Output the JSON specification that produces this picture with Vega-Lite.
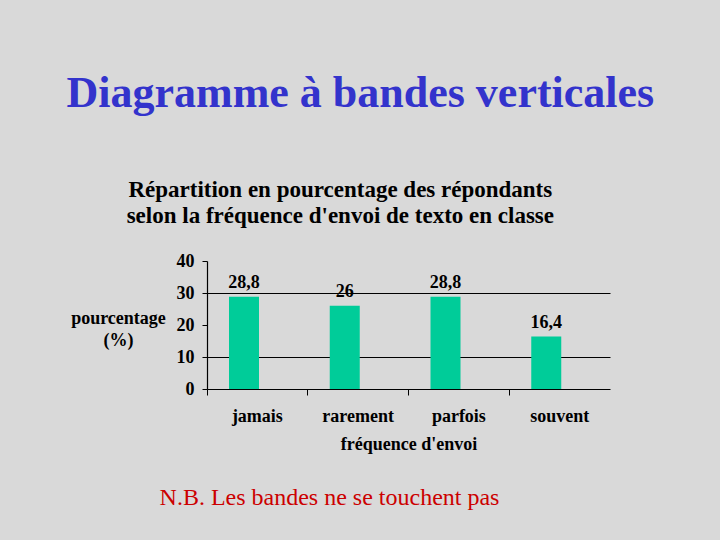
{
  "$schema": "https://vega.github.io/schema/vega-lite/v6.json",
  "background": "#d9d9d9",
  "padding": {"left": 66, "top": 72, "right": 67, "bottom": 30},
  "config": {
    "view": {"stroke": null},
    "locale": {"number": {"decimal": ",", "thousands": " ", "grouping": [3], "currency": ["", " €"]}},
    "concat": {"spacing": 0}
  },
  "title": {
    "text": "Diagramme à bandes verticales",
    "font": "Liberation Serif",
    "fontSize": 44,
    "fontWeight": "bold",
    "color": "#3333cc",
    "anchor": "middle",
    "dx": 20,
    "offset": 63
  },
  "vconcat": [
    {
      "title": {
        "text": ["Répartition en pourcentage des répondants", "selon la fréquence d'envoi de texto en classe"],
        "font": "Liberation Serif",
        "fontSize": 23,
        "fontWeight": "bold",
        "color": "#000000",
        "lineHeight": 26,
        "anchor": "middle",
        "offset": 24
      },
      "vconcat": [
        {
          "title": {
            "text": "N.B. Les bandes ne se touchent pas",
            "orient": "bottom",
            "font": "Liberation Serif",
            "fontSize": 24,
            "fontWeight": "normal",
            "color": "#cc0000",
            "anchor": "middle",
            "dx": -79,
            "offset": 33
          },
          "width": 403,
          "height": 128,
          "data": {
            "values": [
              {"frequence": "jamais", "pourcentage": 28.8},
              {"frequence": "rarement", "pourcentage": 26},
              {"frequence": "parfois", "pourcentage": 28.8},
              {"frequence": "souvent", "pourcentage": 16.4}
            ]
          },
          "encoding": {
            "x": {
              "field": "frequence",
              "type": "nominal",
              "sort": null,
              "scale": {"paddingInner": 0, "paddingOuter": 0},
              "axis": {
                "title": "fréquence d'envoi",
                "titleFont": "Liberation Serif",
                "titleFontSize": 18,
                "titleFontWeight": "bold",
                "titleColor": "#000000",
                "titlePadding": 10,
                "labelFont": "Liberation Serif",
                "labelFontSize": 18,
                "labelFontWeight": "bold",
                "labelColor": "#000000",
                "labelAngle": 0,
                "labelAlign": "center",
                "labelDx": 50,
                "labelPadding": 12,
                "bandPosition": 0,
                "domainColor": "#000000",
                "domainWidth": 1.2,
                "tickColor": "#000000",
                "tickSize": 6,
                "grid": false
              }
            },
            "xOffset": {
              "datum": "pourcentage",
              "type": "nominal",
              "scale": {"domain": ["pourcentage"], "paddingInner": 0.152, "paddingOuter": 1, "align": 0.311}
            },
            "y": {
              "field": "pourcentage",
              "type": "quantitative",
              "scale": {"domain": [0, 40]},
              "axis": {
                "values": [0, 10, 20, 30, 40],
                "title": ["pourcentage", "(%)"],
                "titleAngle": 0,
                "titleAlign": "center",
                "titleBaseline": "middle",
                "titleX": -89,
                "titleY": 57,
                "titleLineHeight": 22,
                "titleFont": "Liberation Serif",
                "titleFontSize": 18,
                "titleFontWeight": "bold",
                "titleColor": "#000000",
                "labelFont": "Liberation Serif",
                "labelFontSize": 18,
                "labelFontWeight": "bold",
                "labelColor": "#000000",
                "labelPadding": 8,
                "domainColor": "#000000",
                "domainWidth": 1.2,
                "tickColor": "#000000",
                "tickSize": 5,
                "grid": true,
                "gridColor": "#000000",
                "gridWidth": 1.2,
                "gridOpacity": {"condition": {"test": "datum.value % 20 == 10", "value": 1}, "value": 0}
              }
            }
          },
          "layer": [
            {"mark": {"type": "bar", "color": "#00cc99"}},
            {
              "mark": {
                "type": "text",
                "baseline": "bottom",
                "dy": -5,
                "font": "Liberation Serif",
                "fontSize": 18,
                "fontWeight": "bold",
                "color": "#000000"
              },
              "encoding": {"text": {"field": "pourcentage", "type": "quantitative", "format": ".1~f"}}
            }
          ]
        }
      ]
    }
  ]
}
